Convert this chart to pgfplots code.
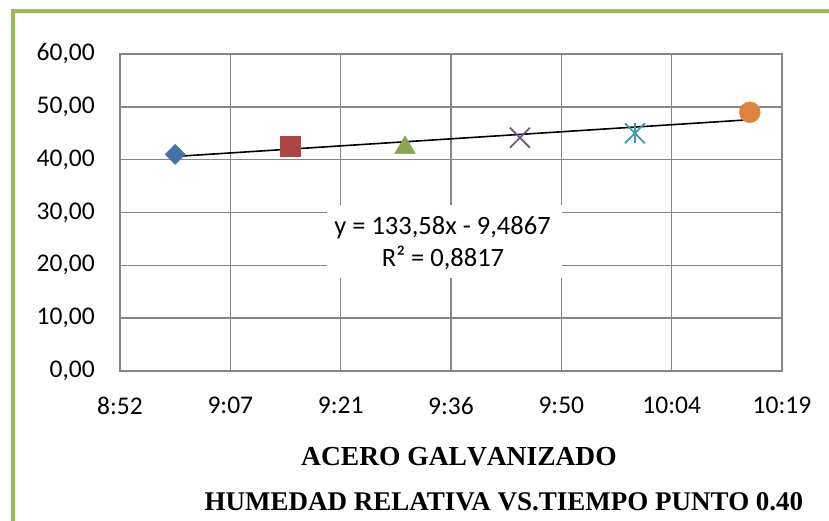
\documentclass[border=0pt]{standalone}
\usepackage{fontspec}
\setmainfont{Carlito}
\newfontfamily\tnr{Liberation Serif}
\newfontfamily\tnrnk[Kerning=Off]{Liberation Serif}
\usepackage{pgfplots}
\pgfplotsset{compat=1.18}
\definecolor{frameg}{HTML}{9BBB59}
\definecolor{gridc}{HTML}{868686}
\definecolor{sA}{HTML}{4572A7}
\definecolor{sB}{HTML}{AA4643}
\definecolor{sC}{HTML}{89A54E}
\definecolor{sD}{HTML}{71588F}
\definecolor{sE}{HTML}{4198AF}
\definecolor{sF}{HTML}{DB843D}
\begin{document}
\begin{tikzpicture}[x=1pt,y=1pt]
\useasboundingbox (0,0) rectangle (829,520);
\draw[frameg, line width=4pt] (12.5,-5) -- (12.5,509) -- (835,509);
\begin{axis}[
  at={(120pt,149pt)}, anchor=south west,
  scale only axis, width=662pt, height=317pt,
  xmin=0.37, xmax=0.43, ymin=0, ymax=60,
  xtick={0.37,0.38,0.39,0.40,0.41,0.42,0.43},
  xticklabels={8:52,9:07,9:21,9:36,9:50,10:04,10:19},
  ytick={0,10,20,30,40,50,60},
  yticklabels={{0,00},{10,00},{20,00},{30,00},{40,00},{50,00},{60,00}},
  major tick length=0pt,
  grid=major,
  grid style={gridc, line width=1.6pt},
  axis line style={gridc, line width=1.6pt},
  ticklabel style={font=\fontsize{25.5}{30}\selectfont, inner sep=0pt},
  yticklabel style={anchor=east, xshift=-25pt},
  xticklabel style={anchor=north, yshift=-26pt},
  clip=false,
]
\addplot[only marks, mark=square*, mark size=7.1pt, mark options={rotate=45, fill=sA, draw=sA}] coordinates {(0.375,41.0)};
\addplot[only marks, mark=square*, mark size=10pt, mark options={fill=sB, draw=sB}] coordinates {(0.385417,42.46)};
\addplot[only marks, mark=triangle*, mark size=12pt, mark options={fill=sC, draw=sC, yshift=-3pt}] coordinates {(0.395833,42.84)};
\addplot[only marks, mark=x, mark size=14.1pt, mark options={draw=sD, line width=1.8pt}] coordinates {(0.40625,44.16)};
\addplot[only marks, mark=x, mark size=14.1pt, mark options={draw=sE, line width=1.8pt}] coordinates {(0.416667,45.0)};
\addplot[only marks, mark=|, mark size=10pt, mark options={draw=sE, line width=1.8pt}] coordinates {(0.416667,45.0)};
\addplot[only marks, mark=*, mark size=10.5pt, mark options={fill=sF, draw=sF}] coordinates {(0.427083,48.97)};
\addplot[black, line width=1.6pt, no marks] coordinates {(0.375,40.6058) (0.427083,47.5631)};
\end{axis}
\fill[white] (327,242) rectangle (562,315);
\node[anchor=base, inner sep=0pt, font=\fontsize{26.5}{30}\selectfont] at (442.5,285.7) {y = 133,58x - 9,4867};
\node[anchor=base, inner sep=0pt, font=\fontsize{26.5}{30}\selectfont] at (443,253.3) {R² = 0,8817};
\node[anchor=base, inner sep=0pt, font=\tnrnk\bfseries\fontsize{27.5}{32}\selectfont] at (459,55) {ACERO GALVANIZADO};
\node[anchor=base, inner sep=0pt, font=\tnr\bfseries\fontsize{27}{32}\selectfont] at (504,10) {HUMEDAD RELATIVA VS.TIEMPO PUNTO 0.40};
\end{tikzpicture}
\end{document}
